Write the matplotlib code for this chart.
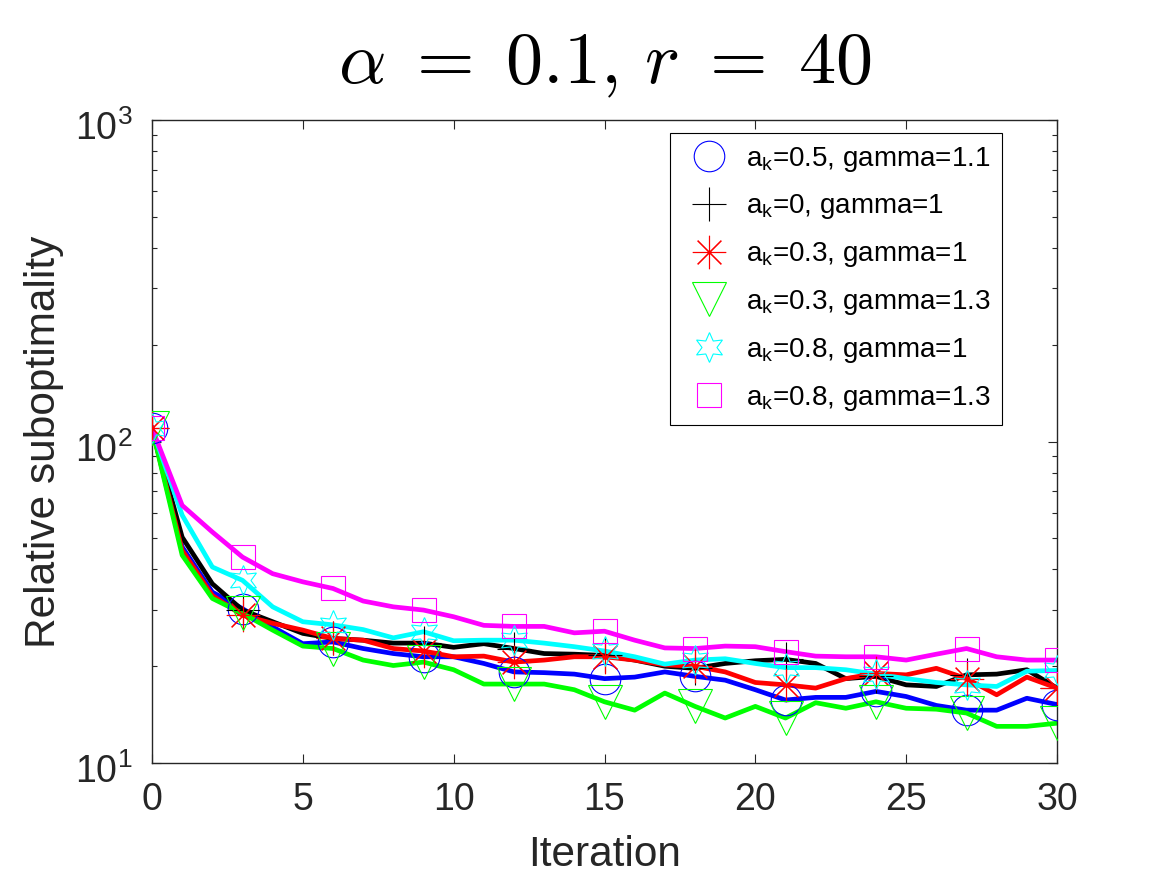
import matplotlib
matplotlib.use('Agg')
import matplotlib.pyplot as plt
import matplotlib.transforms as mtransforms
import numpy as np

plt.rcParams['font.family'] = ['Liberation Sans', 'DejaVu Sans']
plt.rcParams['mathtext.fontset'] = 'custom'
plt.rcParams['mathtext.rm'] = 'Liberation Sans'
plt.rcParams['mathtext.it'] = 'Liberation Sans:italic'
plt.rcParams['mathtext.bf'] = 'Liberation Sans:bold'

# ---------------- data ----------------
iterations = np.arange(31)

blue_a05_g11 = [110, 47.0, 34.0, 30.2, 26.5, 23.5, 23.8, 22.7, 21.9, 21.4, 21.4,
                20.4, 19.2, 19.1, 18.9, 18.3, 18.5, 19.2, 18.6, 18.1, 16.9,
                15.7, 16.0, 16.0, 16.7, 16.1, 15.1, 14.6, 14.6, 15.9, 15.2]
black_a0_g1 = [110, 50.4, 36.1, 29.9, 27.5, 25.3, 24.4, 24.1, 23.6, 23.6, 22.9,
               23.5, 22.7, 21.9, 21.8, 21.6, 20.9, 20.0, 19.7, 20.4, 20.8,
               21.0, 20.4, 18.3, 18.6, 17.5, 17.3, 18.8, 18.9, 19.5, 17.1]
red_a03_g1 = [110, 45.9, 33.2, 28.8, 27.2, 25.9, 24.4, 24.1, 22.7, 22.3, 21.4,
              21.5, 20.6, 20.9, 21.4, 21.4, 20.9, 20.2, 20.0, 19.2, 17.8,
              17.5, 17.1, 18.3, 19.0, 18.8, 19.7, 18.3, 16.3, 18.5, 17.1]
green_a03_g13 = [110, 44.3, 32.5, 29.2, 25.9, 23.1, 22.7, 20.9, 20.1, 20.6, 19.5,
                 17.6, 17.6, 17.6, 16.9, 15.5, 14.6, 16.5, 15.0, 13.8, 15.0,
                 13.8, 15.4, 14.8, 15.5, 14.8, 14.7, 14.3, 13.0, 13.0, 13.3]
cyan_a08_g1 = [110, 59.0, 40.7, 37.0, 30.6, 27.5, 26.9, 26.0, 24.5, 25.6, 24.0,
               24.1, 24.1, 23.6, 23.0, 22.3, 21.4, 20.3, 20.9, 21.1, 20.4,
               19.8, 19.8, 19.5, 18.9, 18.3, 17.8, 17.5, 17.3, 19.3, 19.4]
magenta_a08_g13 = [110, 63.3, 52.3, 43.7, 38.8, 36.6, 34.9, 31.9, 30.6, 29.9, 28.5,
                   26.8, 26.6, 26.6, 25.4, 25.7, 24.1, 22.8, 22.7, 23.1, 23.0,
                   22.2, 21.5, 21.4, 21.4, 20.9, 21.8, 22.7, 21.4, 20.9, 20.9]

series_values = [blue_a05_g11, black_a0_g1, red_a03_g1,
                 green_a03_g13, cyan_a08_g1, magenta_a08_g13]
series_labels = [r'$\mathregular{a_k}$=0.5, gamma=1.1',
                 r'$\mathregular{a_k}$=0, gamma=1',
                 r'$\mathregular{a_k}$=0.3, gamma=1',
                 r'$\mathregular{a_k}$=0.3, gamma=1.3',
                 r'$\mathregular{a_k}$=0.8, gamma=1',
                 r'$\mathregular{a_k}$=0.8, gamma=1.3']
series_colors = ['#0000ff', '#000000', '#ff0000', '#00ff00', '#00ffff', '#ff00ff']
series_markers = ['o', '+', (8, 2, 0), 'v', (6, 1, 0), 's']
series_msizes = [22, 24, 24, 25, 21.5, 17.5]

xticks = [0, 5, 10, 15, 20, 25, 30]
yticks = [10, 100, 1000]
ytick_labels = [r'$\mathregular{10^{1}}$', r'$\mathregular{10^{2}}$', r'$\mathregular{10^{3}}$']
title_text = r'$\alpha\;=\;0.1,\,r\;=\;40$'

# ---------------- figure ----------------
fig = plt.figure(figsize=(11.67, 8.75), dpi=100)
ax = fig.add_axes([152 / 1167, 112 / 875, 905 / 1167, 643 / 875])
ax.set_yscale('log')

dark = '#262626'
for vals, lab, col, mk, ms in zip(series_values, series_labels, series_colors,
                                   series_markers, series_msizes):
    vals = np.asarray(vals)
    ax.plot(iterations, vals, '-', color=col, lw=3.4, zorder=2,
            solid_joinstyle='round')
    ax.plot(iterations[::3], vals[::3], ls='none', marker=mk, ms=ms,
            mfc='none', mec=col, mew=0.8, label=lab, zorder=3)

ax.set_xlim(0, 30)
ax.set_ylim(10, 1000)
ax.set_xticks(xticks)
ax.set_yticks(yticks)
ax.set_yticklabels(ytick_labels)
ax.tick_params(which='both', direction='in', top=True, right=True,
               color=dark, labelcolor=dark)
ax.tick_params(which='major', length=6.5, width=0.8, labelsize=27)
ax.tick_params(axis='x', which='major', pad=14)
ax.tick_params(axis='y', which='major', pad=14)
ax.tick_params(which='minor', length=3.6, width=0.8)
for sp in ax.spines.values():
    sp.set_color(dark)
    sp.set_linewidth(1.0)

# shift y tick labels slightly down (MATLAB-style centring)
offset = mtransforms.ScaledTranslation(0, -4 / 72, fig.dpi_scale_trans)
for lbl in ax.get_yticklabels():
    lbl.set_transform(lbl.get_transform() + offset)

ax.set_xlabel('Iteration', fontsize=30.5, color=dark)
ax.set_ylabel('Relative suboptimality', fontsize=30.5, color=dark)
ax.xaxis.set_label_coords(0.5, -0.112)
ax.yaxis.set_label_coords(-0.097, 0.5)

ax.set_title(title_text, fontsize=53.5, math_fontfamily='cm',
             pad=27, color='black')

leg = ax.legend(loc='upper right', bbox_to_anchor=(0.939, 0.980),
                borderaxespad=0, fontsize=20, frameon=True, fancybox=False,
                framealpha=1, edgecolor='black', handlelength=1.96,
                handletextpad=0.35, borderpad=0.42, labelspacing=0.68)
leg.get_frame().set_linewidth(0.8)

fig.savefig('out.png', dpi=100)
